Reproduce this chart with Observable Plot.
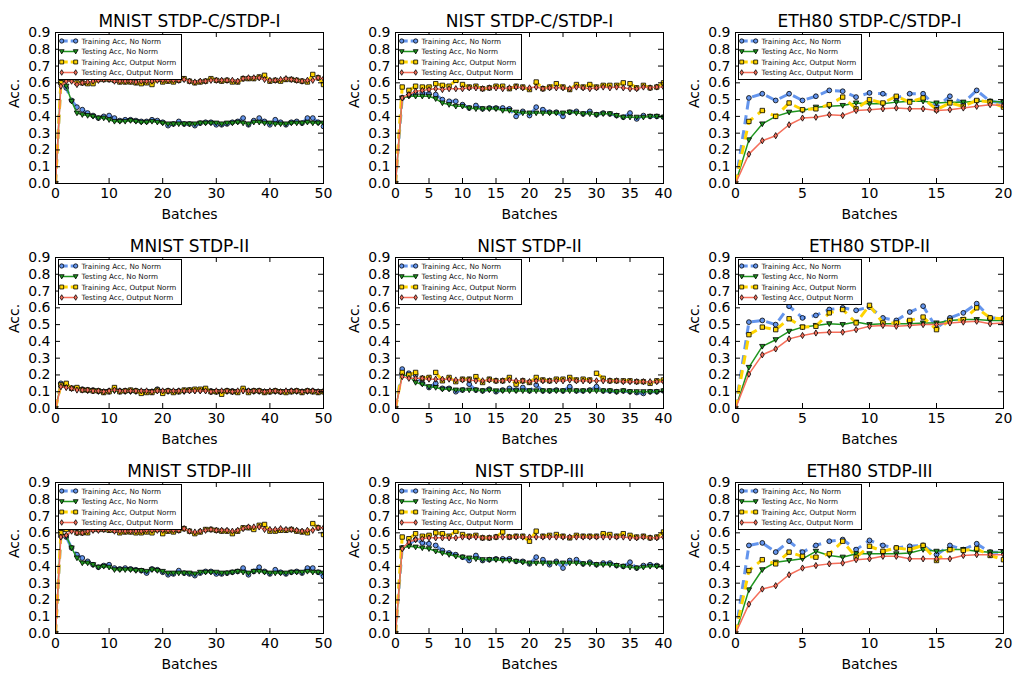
<!DOCTYPE html>
<html><head><meta charset="utf-8">
<script src="https://cdn.jsdelivr.net/npm/d3@7"></script>
<script src="https://cdn.jsdelivr.net/npm/@observablehq/plot@0.6"></script>
<style>
body{margin:0;background:#fff;font-family:"DejaVu Sans",sans-serif;}
#root{position:relative;width:1015px;height:677px;overflow:hidden;}
.cell{position:absolute;width:340px;height:225px;}
.cell svg{position:absolute;left:0;top:0;}
</style></head><body><div id="root"></div>
<script>
// ---------- labels ----------
const seriesNames = ["Training Acc, No Norm","Testing Acc, No Norm","Training Acc, Output Norm","Testing Acc, Output Norm"];
const titles = ["MNIST STDP-C/STDP-I","NIST STDP-C/STDP-I","ETH80 STDP-C/STDP-I",
                "MNIST STDP-II","NIST STDP-II","ETH80 STDP-II",
                "MNIST STDP-III","NIST STDP-III","ETH80 STDP-III"];
const xLabel = "Batches";
const yLabel = "Acc.";
const mnistXTicks = [0,10,20,30,40,50];
const nistXTicks = [0,5,10,15,20,25,30,35,40];
const ethXTicks = [0,5,10,15,20];
const yTicks = [0,0.1,0.2,0.3,0.4,0.5,0.6,0.7,0.8,0.9];

// ---------- MNIST STDP-C/STDP-I ----------
const mnist1_trainNo = [0,.60,.57,.495,.455,.44,.42,.405,.39,.40, .405,.39,.375,.38,.38,.375,.37,.37,.38,.375, .365,.345,.355,.37,.355,.355,.345,.36,.365,.365, .35,.35,.355,.365,.37,.39,.35,.375,.39,.37, .35,.38,.365,.35,.365,.37,.36,.39,.39,.365,.34];
const mnist1_testNo  = [0,.60,.58,.49,.42,.41,.405,.40,.39,.39, .38,.37,.37,.37,.375,.37,.365,.365,.37,.365, .36,.355,.355,.355,.355,.355,.355,.36,.36,.36, .36,.355,.36,.36,.365,.36,.355,.365,.365,.36, .36,.355,.355,.355,.36,.36,.36,.365,.36,.36,.36];
const mnist1_trainOut= [0,.60,.62,.62,.60,.60,.595,.595,.62,.62, .62,.615,.605,.605,.605,.60,.595,.60,.59,.62, .605,.61,.605,.615,.625,.61,.60,.605,.61,.625, .615,.61,.615,.605,.605,.625,.625,.625,.635,.645, .61,.615,.61,.62,.62,.615,.61,.605,.65,.63,.59];
const mnist1_testOut = [0,.58,.61,.61,.59,.60,.605,.61,.615,.62, .62,.61,.61,.61,.61,.605,.61,.61,.61,.615, .615,.615,.615,.615,.62,.61,.605,.61,.61,.615, .615,.615,.615,.615,.61,.625,.63,.63,.63,.62, .615,.615,.62,.625,.62,.615,.61,.615,.615,.63,.625];

// ---------- NIST STDP-C/STDP-I ----------
const nist1_trainNo = [0,.51,.525,.535,.54,.535,.53,.50,.49,.49, .47,.45,.465,.445,.45,.45,.45,.445,.40,.43, .405,.455,.44,.425,.425,.40,.425,.43,.415,.43, .41,.42,.415,.405,.395,.42,.385,.405,.40,.40,.395];
const nist1_testNo  = [0,.51,.52,.52,.52,.52,.505,.48,.47,.46, .46,.45,.445,.445,.445,.445,.435,.435,.425,.42, .42,.42,.42,.42,.42,.42,.425,.42,.415,.415, .41,.415,.415,.405,.395,.395,.395,.395,.40,.40,.395];
const nist1_trainOut= [0,.575,.555,.58,.575,.575,.595,.585,.58,.615, .59,.575,.58,.565,.57,.58,.58,.565,.58,.575, .56,.605,.565,.575,.595,.575,.56,.59,.575,.59, .575,.585,.585,.585,.60,.595,.57,.585,.57,.575,.60];
const nist1_testOut = [0,.51,.53,.55,.555,.56,.565,.56,.565,.565, .565,.57,.57,.565,.57,.57,.565,.57,.575,.57, .57,.575,.565,.57,.57,.57,.565,.575,.57,.565, .57,.575,.57,.575,.57,.565,.565,.575,.57,.575,.575];

// ---------- ETH80 STDP-C/STDP-I ----------
const eth1_trainNo = [0,.51,.535,.495,.535,.495,.52,.555,.55,.515, .54,.535,.51,.535,.535,.455,.52,.48,.555,.49,.48];
const eth1_testNo  = [0,.26,.355,.40,.425,.435,.455,.46,.465,.48, .475,.475,.485,.49,.49,.48,.485,.485,.49,.49,.485];
const eth1_trainOut= [0,.37,.435,.40,.48,.44,.445,.47,.515,.445, .50,.48,.52,.485,.51,.44,.48,.46,.495,.485,.455];
const eth1_testOut = [0,.175,.255,.285,.35,.39,.395,.41,.405,.435, .44,.445,.45,.445,.445,.435,.44,.45,.46,.47,.465];

// ---------- MNIST STDP-II ----------
const mnist2_trainNo = [0,.15,.14,.12,.12,.115,.11,.11,.105,.10, .105,.12,.105,.105,.105,.105,.10,.10,.10,.115, .10,.105,.10,.105,.105,.11,.11,.11,.115,.105, .10,.095,.105,.105,.10,.115,.105,.105,.105,.10, .10,.105,.10,.10,.105,.105,.10,.105,.105,.10,.10];
const mnist2_testNo  = [0,.14,.13,.12,.115,.11,.105,.105,.10,.10, .10,.105,.10,.10,.10,.10,.10,.10,.10,.105, .10,.10,.10,.10,.10,.105,.105,.105,.105,.10, .10,.10,.10,.10,.10,.105,.10,.10,.10,.10, .10,.10,.10,.10,.10,.10,.10,.10,.10,.10,.10];
const mnist2_trainOut= [0,.14,.15,.12,.125,.11,.11,.105,.105,.095, .10,.125,.10,.105,.11,.105,.09,.095,.095,.11, .09,.105,.095,.10,.11,.11,.115,.115,.12,.10, .10,.085,.105,.10,.095,.12,.095,.105,.105,.095, .10,.105,.10,.095,.10,.105,.095,.105,.10,.095,.10];
const mnist2_testOut = [0,.13,.125,.12,.11,.11,.11,.105,.105,.10, .105,.11,.105,.105,.105,.105,.105,.105,.10,.105, .105,.105,.105,.105,.105,.105,.105,.105,.105,.10, .105,.105,.105,.10,.105,.105,.105,.105,.105,.10, .105,.105,.10,.105,.105,.105,.10,.105,.105,.10,.105];

// ---------- NIST STDP-II ----------
const nist2_trainNo = [0,.235,.21,.20,.15,.125,.15,.12,.12,.10, .11,.145,.11,.105,.115,.10,.11,.12,.11,.125, .105,.14,.105,.105,.11,.105,.13,.105,.105,.11, .13,.105,.105,.10,.105,.10,.095,.09,.10,.10,.105];
const nist2_testNo  = [0,.20,.195,.155,.145,.13,.125,.115,.115,.11, .11,.11,.11,.105,.11,.105,.105,.105,.105,.105, .105,.105,.105,.105,.105,.105,.105,.105,.105,.105, .105,.105,.105,.10,.105,.10,.10,.10,.10,.10,.105];
const nist2_trainOut= [0,.215,.20,.215,.18,.185,.215,.165,.185,.16, .175,.175,.19,.155,.175,.165,.165,.185,.145,.165, .155,.185,.17,.165,.175,.175,.185,.17,.175,.17, .21,.18,.165,.165,.165,.165,.16,.16,.15,.165,.17];
const nist2_testOut = [0,.19,.18,.18,.18,.175,.175,.175,.175,.17, .17,.17,.165,.165,.17,.165,.165,.17,.165,.165, .16,.165,.165,.165,.165,.165,.17,.165,.165,.165, .165,.165,.165,.165,.16,.16,.16,.16,.16,.16,.16];

// ---------- ETH80 STDP-II ----------
const eth2_trainNo = [0,.515,.525,.50,.61,.54,.555,.59,.60,.585, .605,.54,.525,.575,.61,.48,.54,.57,.625,.54,.54];
const eth2_testNo  = [0,.245,.37,.41,.46,.485,.495,.505,.50,.515, .50,.505,.505,.505,.51,.51,.525,.53,.53,.525,.525];
const eth2_trainOut= [0,.44,.485,.47,.535,.485,.49,.57,.59,.51, .615,.51,.51,.525,.545,.47,.525,.53,.60,.54,.535];
const eth2_testOut = [0,.205,.32,.355,.415,.435,.45,.455,.455,.47, .49,.495,.49,.495,.50,.50,.51,.515,.52,.505,.51];

// ---------- MNIST STDP-III ----------
const mnist3_trainNo = [0,.58,.575,.51,.47,.45,.43,.41,.395,.405, .41,.39,.385,.39,.385,.38,.375,.36,.385,.38, .365,.35,.355,.375,.36,.355,.345,.36,.37,.37, .355,.355,.36,.365,.37,.39,.35,.37,.395,.37, .355,.38,.365,.355,.365,.37,.36,.39,.39,.365,.34];
const mnist3_testNo  = [0,.60,.58,.51,.45,.42,.42,.41,.395,.40, .395,.38,.38,.38,.38,.375,.375,.37,.38,.375, .37,.36,.36,.36,.36,.36,.355,.365,.365,.365, .365,.36,.36,.365,.37,.365,.36,.37,.37,.365, .36,.36,.36,.36,.365,.365,.365,.37,.365,.365,.36];
const mnist3_trainOut= [0,.60,.62,.62,.60,.60,.60,.62,.62,.62, .615,.615,.60,.605,.605,.60,.60,.605,.60,.62, .595,.61,.605,.615,.625,.61,.595,.605,.62,.62, .615,.61,.61,.595,.61,.63,.63,.62,.645,.65, .61,.61,.615,.615,.62,.61,.605,.60,.655,.63,.59];
const mnist3_testOut = [0,.575,.585,.61,.60,.60,.61,.615,.615,.62, .62,.61,.61,.61,.61,.61,.61,.615,.615,.615, .615,.615,.615,.615,.625,.61,.605,.61,.615,.62, .615,.615,.615,.61,.615,.625,.635,.635,.635,.62, .62,.62,.625,.62,.62,.615,.61,.615,.615,.63,.63];

// ---------- NIST STDP-III ----------
const nist3_trainNo = [0,.51,.53,.56,.54,.535,.525,.495,.48,.47, .455,.435,.465,.435,.44,.445,.445,.445,.43,.43, .415,.455,.44,.41,.43,.39,.435,.44,.415,.425, .41,.42,.42,.405,.40,.425,.39,.405,.41,.405,.395];
const nist3_testNo  = [0,.51,.52,.515,.51,.505,.49,.48,.47,.46, .455,.45,.445,.44,.44,.44,.435,.435,.43,.425, .42,.42,.42,.42,.42,.42,.42,.42,.415,.415, .41,.41,.41,.405,.40,.395,.39,.395,.40,.40,.395];
const nist3_trainOut= [0,.575,.565,.595,.58,.585,.60,.595,.58,.61, .59,.58,.585,.57,.57,.575,.605,.575,.58,.58, .55,.61,.58,.585,.59,.58,.57,.585,.58,.58, .58,.595,.59,.58,.595,.585,.575,.58,.57,.575,.605];
const nist3_testOut = [0,.505,.545,.56,.565,.57,.57,.57,.57,.57, .575,.575,.575,.57,.57,.575,.575,.575,.575,.575, .575,.575,.575,.575,.575,.575,.575,.575,.575,.575, .575,.575,.575,.575,.575,.57,.57,.575,.57,.57,.575];

// ---------- ETH80 STDP-III ----------
const eth3_trainNo = [0,.525,.54,.485,.55,.485,.525,.55,.56,.50, .555,.525,.51,.52,.525,.47,.525,.50,.535,.485,.485];
const eth3_testNo  = [0,.26,.38,.425,.435,.445,.49,.465,.455,.475, .475,.475,.475,.48,.50,.49,.50,.50,.49,.485,.485];
const eth3_trainOut= [0,.375,.44,.415,.485,.46,.455,.475,.55,.455, .52,.49,.51,.50,.525,.435,.50,.495,.505,.465,.44];
const eth3_testOut = [0,.175,.265,.285,.35,.39,.405,.415,.42,.44, .445,.46,.46,.445,.445,.445,.445,.465,.47,.47,.47];

const panelSeries = [
  [mnist1_trainNo, mnist1_testNo, mnist1_trainOut, mnist1_testOut],
  [nist1_trainNo, nist1_testNo, nist1_trainOut, nist1_testOut],
  [eth1_trainNo, eth1_testNo, eth1_trainOut, eth1_testOut],
  [mnist2_trainNo, mnist2_testNo, mnist2_trainOut, mnist2_testOut],
  [nist2_trainNo, nist2_testNo, nist2_trainOut, nist2_testOut],
  [eth2_trainNo, eth2_testNo, eth2_trainOut, eth2_testOut],
  [mnist3_trainNo, mnist3_testNo, mnist3_trainOut, mnist3_testOut],
  [nist3_trainNo, nist3_testNo, nist3_trainOut, nist3_testOut],
  [eth3_trainNo, eth3_testNo, eth3_trainOut, eth3_testOut]
];
const panelXTicks = [mnistXTicks, nistXTicks, ethXTicks];

// ---------- symbols ----------
const symCircle = {draw(c, s){ const r = Math.sqrt(s/Math.PI); c.moveTo(r,0); c.arc(0,0,r,0,2*Math.PI); c.closePath(); }};
const symTriDown = {draw(c, s){ const r = Math.sqrt(s/Math.PI); c.moveTo(-r,-r*0.75); c.lineTo(r,-r*0.75); c.lineTo(0,r); c.closePath(); }};
const symSquare = {draw(c, s){ const r = Math.sqrt(s/Math.PI); c.rect(-r,-r,2*r,2*r); }};
const symThinDiamond = {draw(c, s){ const r = Math.sqrt(s/Math.PI); c.moveTo(0,-r); c.lineTo(r*0.6,0); c.lineTo(0,r); c.lineTo(-r*0.6,0); c.closePath(); }};

const styles = [
  {color:"#6495ED", width:3, dash:"9,6", sym:symCircle, r:2.4},
  {color:"#1f961f", width:1.5, dash:null, sym:symTriDown, r:2.7},
  {color:"#FFD400", width:3, dash:"9,6", sym:symSquare, r:2.2},
  {color:"#f56e5a", width:1.5, dash:null, sym:symThinDiamond, r:3.1}
];

const W = 340, H = 225, ML = 55, MR = 17, MT = 32, MB = 42;
const IW = W - ML - MR, IH = H - MT - MB, TL = 5;
const root = document.getElementById("root");

titles.forEach((title, p) => {
  const row = Math.floor(p / 3), col = p % 3;
  const xt = panelXTicks[col];
  const xmax = xt[xt.length - 1];
  const cell = document.createElement("div");
  cell.className = "cell";
  cell.style.left = (col * W) + "px";
  cell.style.top = (row * H) + "px";
  root.appendChild(cell);

  const marks = [];
  panelSeries[p].forEach((arr, k) => {
    const st = styles[k];
    const rows = arr.map((v, i) => ({x: i, y: v}));
    marks.push(Plot.line(rows, {x: "x", y: "y", stroke: st.color, strokeWidth: st.width,
      strokeDasharray: st.dash, strokeLinecap: "butt", strokeLinejoin: "round", clip: true}));
    marks.push(Plot.dot(rows, {x: "x", y: "y", symbol: st.sym, r: st.r, fill: st.color,
      stroke: "black", strokeWidth: 0.8, clip: true}));
  });
  marks.push(
    Plot.tickX(xt, {x: d => d, insetTop: IH - TL, stroke: "black"}),
    Plot.tickX(xt, {x: d => d, insetBottom: IH - TL, stroke: "black"}),
    Plot.tickY(yTicks, {y: d => d, insetRight: IW - TL, stroke: "black"}),
    Plot.tickY(yTicks, {y: d => d, insetLeft: IW - TL, stroke: "black"}),
    Plot.frame({stroke: "black", strokeWidth: 1}),
    Plot.axisX({ticks: xt, tickSize: 0, tickPadding: 5, fontSize: 14, label: null}),
    Plot.axisY({ticks: yTicks, tickSize: 0, tickPadding: 5, fontSize: 14, label: null, tickFormat: d3.format(".1f")}),
    Plot.text([title], {frameAnchor: "top", dy: -6, lineAnchor: "bottom", fontSize: 17, text: d => d, fill: "black"}),
    Plot.text([xLabel], {frameAnchor: "bottom", dy: 35, lineAnchor: "bottom", fontSize: 14, text: d => d, fill: "black"}),
    Plot.text([yLabel], {frameAnchor: "left", dx: -37, rotate: -90, lineAnchor: "bottom", fontSize: 14, text: d => d, fill: "black"})
  );

  const chart = Plot.plot({
    width: W, height: H,
    marginLeft: ML, marginRight: MR, marginTop: MT, marginBottom: MB,
    x: {domain: [0, xmax]},
    y: {domain: [0, 0.9]},
    style: {fontFamily: "DejaVu Sans", background: "transparent", color: "black", overflow: "visible"},
    marks
  });
  cell.appendChild(chart);

  // legend overlay
  const lg = d3.select(cell).append("svg")
    .attr("width", 125).attr("height", 47)
    .style("left", (ML + 3) + "px").style("top", (MT + 2) + "px")
    .style("font-family", "DejaVu Sans");
  lg.append("rect").attr("x", 0.5).attr("y", 0.5).attr("width", 123).attr("height", 45)
    .attr("fill", "white").attr("stroke", "black").attr("stroke-width", 1);
  seriesNames.forEach((name, k) => {
    const st = styles[k];
    const yy = 7 + k * 10.5;
    lg.append("line").attr("x1", 3.7).attr("x2", 17.7).attr("y1", yy).attr("y2", yy)
      .attr("stroke", st.color).attr("stroke-width", st.width)
      .attr("stroke-dasharray", st.dash ? "6,3" : null);
    [3.7, 17.7].forEach(px => {
      lg.append("path").attr("d", d3.symbol(st.sym, st.r * st.r * Math.PI * 0.8)())
        .attr("transform", `translate(${px},${yy})`)
        .attr("fill", st.color).attr("stroke", "black").attr("stroke-width", 0.8);
    });
    lg.append("text").attr("x", 23.5).attr("y", yy).attr("dy", "0.35em")
      .attr("font-size", 7.2).attr("fill", "#111").text(name);
  });
});
</script>
</body></html>
